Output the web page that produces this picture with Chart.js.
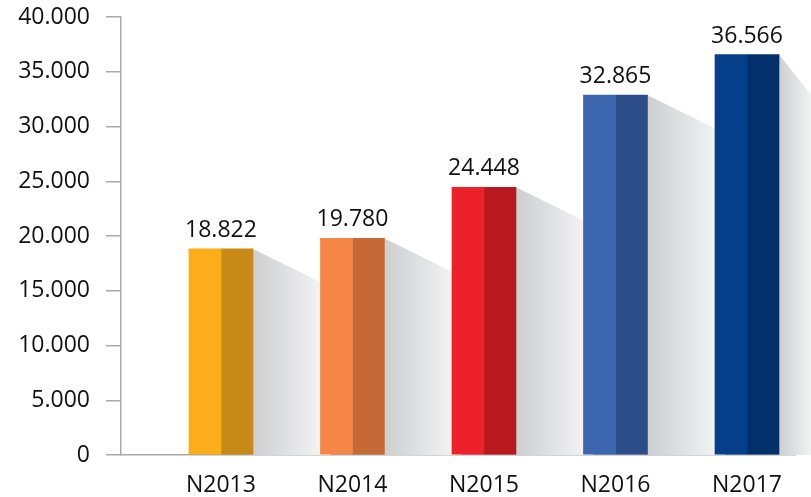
<!DOCTYPE html>
<html>
<head>
<meta charset="utf-8">
<script src="https://cdn.jsdelivr.net/npm/chart.js@4/dist/chart.umd.min.js"></script>
<style>
  html, body { margin: 0; padding: 0; background: #ffffff; }
  #wrap { width: 811px; height: 497px; position: relative; }
</style>
</head>
<body>
<div id="wrap"><canvas id="c" width="811" height="497"></canvas></div>
<script>
// ---- data ----
const categories = ['N2013', 'N2014', 'N2015', 'N2016', 'N2017'];
const values = [18822, 19780, 24448, 32865, 36566];
const yTicks = [0, 5000, 10000, 15000, 20000, 25000, 30000, 35000, 40000];
const lightColors = ['#FBAE1A', '#F58646', '#ED2129', '#3C66B0', '#053F8A'];
const darkColors  = ['#C88A16', '#C56A37', '#B8191F', '#2D4C8A', '#03306A'];

const FONT = '"Open Sans", "Noto Sans", sans-serif';
const fmt = v => String(v).replace(/\B(?=(\d{3})+(?!\d))/g, '.');

const points = values.map((v, i) => ({ x: i, y: v }));

const shadowPlugin = {
  id: 'shadows',
  beforeDatasetsDraw(chart) {
    const ctx = chart.ctx;
    const metaL = chart.getDatasetMeta(0);
    const metaR = chart.getDatasetMeta(1);
    const base = chart.scales.y.getPixelForValue(0);
    const n = metaR.data.length;
    ctx.save();
    for (let i = 0; i < n; i++) {
      const r = metaR.data[i];
      const x0 = r.x + r.width / 2;
      const top = r.y;
      let x1, slope;
      if (i < n - 1) {
        const nl = metaL.data[i + 1];
        x1 = nl.x - nl.width / 2;
        slope = 0.49;
      } else {
        x1 = chart.width;
        slope = 1.25;
      }
      const g = ctx.createLinearGradient(x0, 0, x1, 0);
      g.addColorStop(0, '#cdced0');
      g.addColorStop(1, '#f1f2f2');
      ctx.fillStyle = g;
      ctx.beginPath();
      ctx.moveTo(x0, top);
      ctx.lineTo(x1, top + (x1 - x0) * slope);
      ctx.lineTo(x1 + 10, top + (x1 - x0) * slope + 10 * slope);
      ctx.lineTo(x1 + 10, base);
      ctx.lineTo(x0, base);
      ctx.closePath();
      ctx.fill();
    }
    ctx.restore();
  }
};

const labelPlugin = {
  id: 'valueLabels',
  afterDatasetsDraw(chart) {
    const ctx = chart.ctx;
    const metaL = chart.getDatasetMeta(0);
    const metaR = chart.getDatasetMeta(1);
    ctx.save();
    ctx.font = '23px ' + FONT;
    ctx.fillStyle = '#111111';
    ctx.textAlign = 'center';
    ctx.textBaseline = 'alphabetic';
    metaL.data.forEach((b, i) => {
      const cx = (b.x + metaR.data[i].x) / 2;
      ctx.fillText(fmt(values[i]), cx, b.y - 12);
    });
    ctx.restore();
  }
};

new Chart(document.getElementById('c'), {
  type: 'bar',
  data: {
    datasets: [
      { data: points, backgroundColor: lightColors, barThickness: 32, borderWidth: 0 },
      { data: points, backgroundColor: darkColors, barThickness: 32, borderWidth: 0 }
    ]
  },
  options: {
    responsive: false,
    animation: false,
    layout: { padding: { top: 17, right: 16, left: 0, bottom: 0 } },
    plugins: { legend: { display: false }, tooltip: { enabled: false } },
    scales: {
      x: {
        type: 'linear',
        offset: false,
        min: -0.76,
        max: 4.365,
        afterBuildTicks: s => { s.ticks = categories.map((_, i) => ({ value: i })); },
        afterFit: s => { s.height = 42; s.paddingLeft = 0; s.paddingRight = 0; },
        grid: { display: false },
        border: { display: true, color: '#a9a9a9', width: 1.5 },
        ticks: {
          callback: v => categories[v],
          font: { size: 23, family: FONT },
          color: '#111111',
          padding: 9,
          maxRotation: 0,
          autoSkip: false
        }
      },
      y: {
        min: 0,
        max: 40000,
        afterBuildTicks: s => { s.ticks = yTicks.map(v => ({ value: v })); },
        afterFit: s => { s.width = 121; s.paddingTop = 0; s.paddingBottom = 0; },
        grid: { drawOnChartArea: false, tickLength: 15, color: '#a9a9a9', lineWidth: 1.5 },
        border: { display: true, color: '#a9a9a9', width: 1.5 },
        ticks: {
          callback: v => fmt(v),
          font: { size: 23, family: FONT },
          color: '#111111',
          padding: 16
        }
      }
    }
  },
  plugins: [shadowPlugin, labelPlugin]
});
</script>
</body>
</html>
